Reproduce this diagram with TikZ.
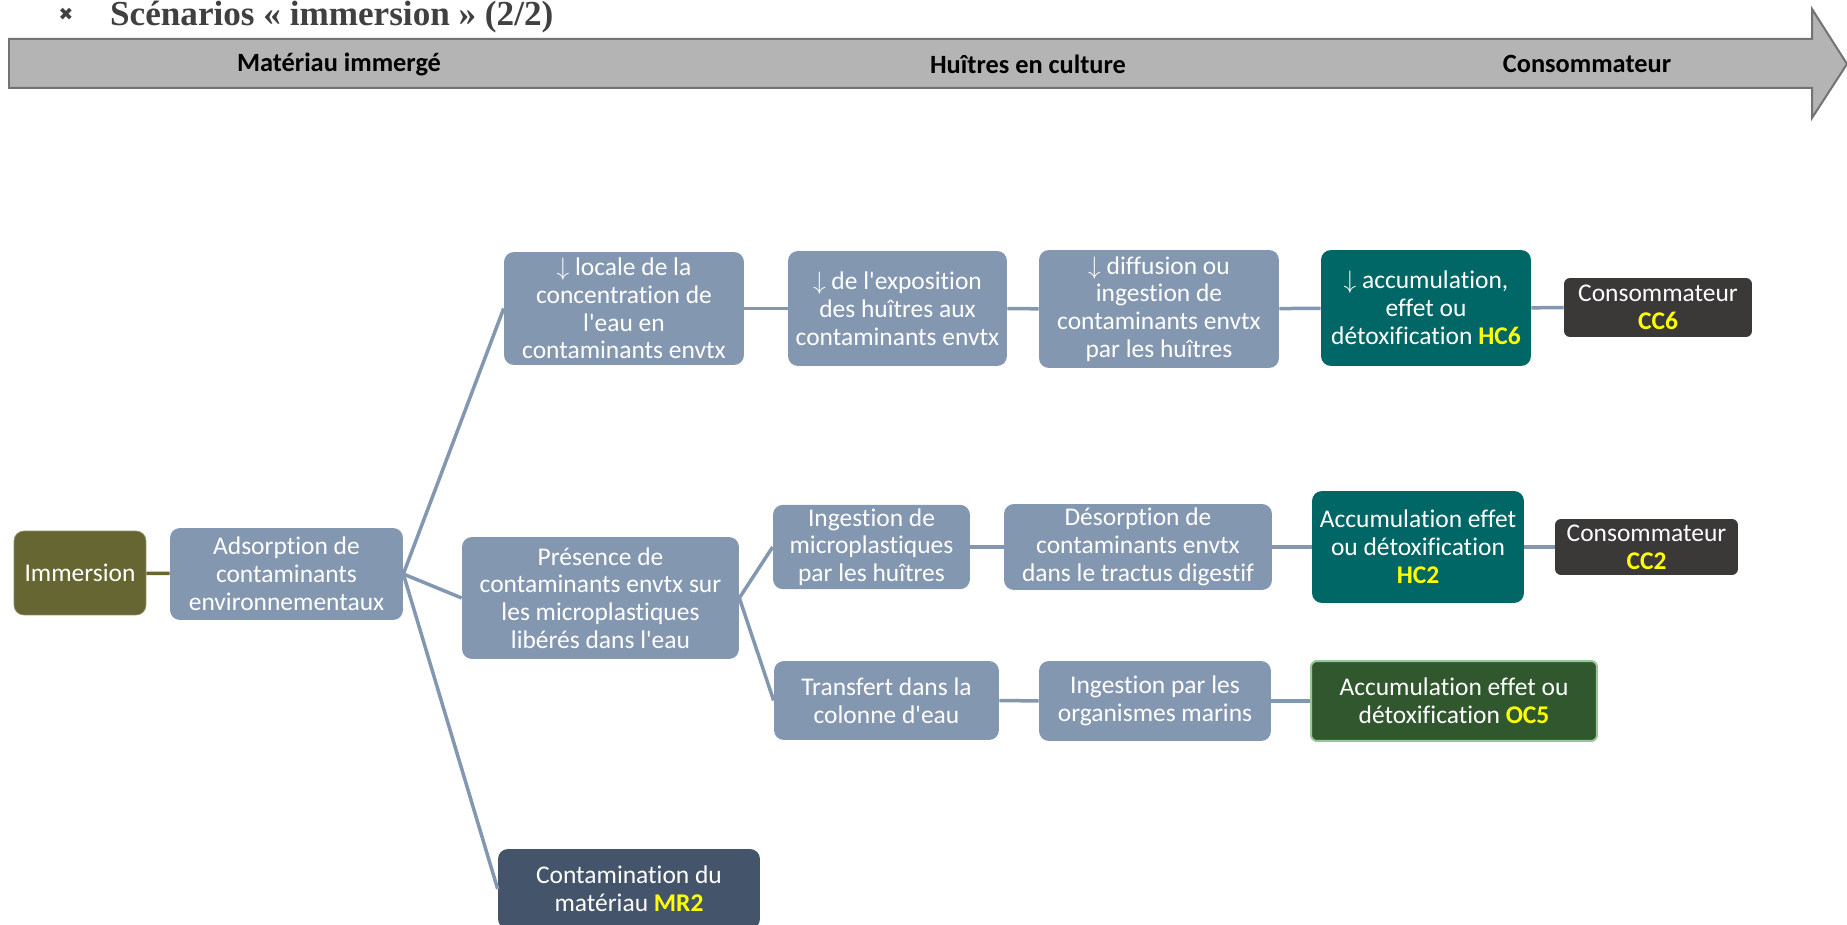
\documentclass[tikz,border=0pt]{standalone}
\usepackage{fontspec}
\setmainfont{Carlito}[Ligatures=NoCommon]
\newfontfamily\titlefont{Liberation Serif}
\newfontfamily\symbfont{DejaVu Sans}
\definecolor{boxblue}{HTML}{8497B0}
\definecolor{hcgreen}{HTML}{006666}
\definecolor{consgray}{HTML}{3B3838}
\definecolor{immolive}{HTML}{666633}
\definecolor{ocgreen}{HTML}{30572E}
\definecolor{mrslate}{HTML}{44546A}
\definecolor{codeyellow}{HTML}{FFFF00}
\definecolor{headgray}{HTML}{B4B4B4}
\newcommand{\codelbl}[1]{\textcolor{codeyellow}{\textbf{#1}}}
\newcommand{\apos}{\textquotesingle}

\tikzset{
  stepbox/.style={rounded corners=0.2cm,fill=boxblue,text=white,align=center,inner sep=2pt,
    font=\fontsize{14.5}{15.8}\selectfont},
  link/.style={draw=boxblue,line width=0.07cm},
  headlbl/.style={font=\fontsize{15}{18}\selectfont\bfseries,text=black}
}

\begin{document}
\begin{tikzpicture}[x=0.02cm,y=-0.02cm]
	\useasboundingbox (0,0) rectangle (1847,925);

	% titre et fleche d'en-tete
	\node[text=black!75,font=\symbfont\fontsize{10}{12}\selectfont] (bul) at (66,14) {✖};
	\node[anchor=base west,text=black!75,font=\titlefont\fontsize{20}{22}\selectfont\bfseries] (title) at (104,26) {Scénarios « immersion » (2/2)};
	\draw[fill=headgray,draw=black!55,line width=0.04cm] (9,39) -- (1812,39) -- (1812,9) -- (1847,64) -- (1812,118) -- (1812,88) -- (9,88) -- cycle;
	\node[headlbl] (hmat) at (339,64) {Matériau immergé};
	\node[headlbl] (hhui) at (1028,64) {Huîtres en culture};
	\node[headlbl] (hcons) at (1587,64) {Consommateur};

	% noeuds
	\node[stepbox,fill=immolive,draw=immolive!75!white,minimum width=2.64cm,minimum height=1.68cm] (imm) at (80,573) {Immersion};
	\node[stepbox,minimum width=4.66cm,minimum height=1.84cm] (ads) at (286.5,574) {Adsorption de\\contaminants\\environnementaux};

	\node[stepbox,minimum width=4.8cm,minimum height=2.26cm] (loc) at (624,308.5) {$\downarrow$ locale de la\\concentration de\\l\apos eau en\\contaminants envtx};
	\node[stepbox,minimum width=4.38cm,minimum height=2.3cm] (expo) at (897.5,308.5) {$\downarrow$ de l\apos exposition\\des huîtres aux\\contaminants envtx};
	\node[stepbox,minimum width=4.8cm,minimum height=2.36cm] (diff) at (1159,309) {$\downarrow$ diffusion ou\\ingestion de\\contaminants envtx\\par les huîtres};
	\node[stepbox,fill=hcgreen,minimum width=4.2cm,minimum height=2.32cm] (hc6) at (1426,308) {$\downarrow$ accumulation,\\effet ou\\détoxification \codelbl{HC6}};
	\node[stepbox,fill=consgray,rounded corners=0.12cm,minimum width=3.76cm,minimum height=1.18cm] (cc6) at (1658,307.5) {Consommateur\\\codelbl{CC6}};

	\node[stepbox,minimum width=5.54cm,minimum height=2.44cm] (pres) at (600.5,598) {Présence de\\contaminants envtx sur\\les microplastiques\\libérés dans l\apos eau};
	\node[stepbox,minimum width=3.94cm,minimum height=1.68cm] (ingm) at (871.5,547) {Ingestion de\\microplastiques\\par les huîtres};
	\node[stepbox,minimum width=5.36cm,minimum height=1.72cm] (deso) at (1138,547) {Désorption de\\contaminants envtx\\dans le tractus digestif};
	\node[stepbox,fill=hcgreen,minimum width=4.24cm,minimum height=2.24cm] (hc2) at (1418,547) {Accumulation effet\\ou détoxification\\\codelbl{HC2}};
	\node[stepbox,fill=consgray,rounded corners=0.12cm,minimum width=3.66cm,minimum height=1.12cm] (cc2) at (1646.5,547) {Consommateur\\\codelbl{CC2}};

	\node[stepbox,minimum width=4.5cm,minimum height=1.58cm] (trans) at (886.5,700.5) {Transfert dans la\\colonne d\apos eau};
	\node[stepbox,minimum width=4.64cm,minimum height=1.6cm] (ingo) at (1155,701) {Ingestion par les\\organismes marins};
	\node[stepbox,fill=ocgreen,draw=green!45!black!40!white,line width=0.04cm,rounded corners=0.12cm,minimum width=5.72cm,minimum height=1.6cm] (oc5) at (1454,701) {Accumulation effet ou\\détoxification \codelbl{OC5}};

	\node[stepbox,fill=mrslate,minimum width=5.24cm,minimum height=1.6cm] (mr2) at (629,889) {Contamination du\\matériau \codelbl{MR2}};

	% liens
	\draw[link,draw=immolive] (imm) -- (ads);
	\draw[link] (ads.east) -- (loc.west);
	\draw[link] (ads.east) -- (pres.west);
	\draw[link] (ads.east) -- (mr2.west);
	\draw[link] (loc) -- (expo);
	\draw[link] (expo) -- (diff);
	\draw[link] (diff) -- (hc6);
	\draw[link] (hc6) -- (cc6);
	\draw[link] (pres.east) -- (ingm.west);
	\draw[link] (pres.east) -- (trans.west);
	\draw[link] (ingm) -- (deso);
	\draw[link] (deso) -- (hc2);
	\draw[link] (hc2) -- (cc2);
	\draw[link] (trans) -- (ingo);
	\draw[link] (ingo) -- (oc5);
\end{tikzpicture}
\end{document}
